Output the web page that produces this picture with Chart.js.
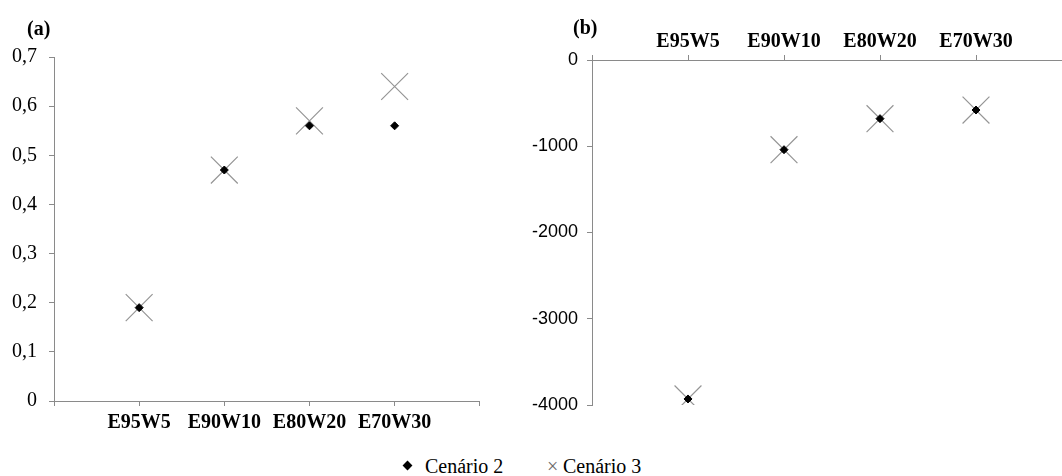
<!DOCTYPE html>
<html>
<head>
<meta charset="utf-8">
<script src="https://cdn.jsdelivr.net/npm/chart.js@4.4.1/dist/chart.umd.min.js"></script>
<style>
  html, body { margin: 0; padding: 0; background: #fff; width: 1062px; height: 476px; overflow: hidden; }
  body { position: relative; font-family: "Liberation Serif", "Times New Roman", serif; }
  .panel { position: absolute; top: 0; }
  .tag { position: absolute; font-weight: bold; font-size: 20px; line-height: 24px; color: #000; }
  .legend { position: absolute; top: 454px; left: 400px; font-size: 20px; line-height: 24px; color: #000; white-space: nowrap; }
  .legend .item { position: absolute; top: 0; }
  .diamond { position: absolute; width: 7px; height: 7px; background: #000; transform: rotate(45deg); top: 8px; }
  .cross { position: absolute; color: #6a6a6a; font-size: 20px; top: 0; }
</style>
</head>
<body>
<div class="panel" style="left:0;width:500px;height:440px;"><canvas id="chartA" width="500" height="440"></canvas></div>
<div class="panel" style="left:500px;width:600px;height:440px;"><canvas id="chartB" width="600" height="440"></canvas></div>
<div class="tag" style="left:27px;top:16px;">(a)</div>
<div class="tag" style="left:573px;top:15px;">(b)</div>
<div class="legend">
  <span class="item" style="left:0;"><span class="diamond" style="left:4px;"></span><span style="position:absolute;left:25px;">Cenário&nbsp;2</span></span>
  <span class="item" style="left:147px;"><span class="cross" style="left:0;">×</span><span style="position:absolute;left:16px;">Cenário&nbsp;3</span></span>
</div>
<script>
// Scenario categories along the horizontal axis
const categories = ['E95W5', 'E90W10', 'E80W20', 'E70W30'];

// Panel (a)
const cenario2A = [0.19, 0.47, 0.56, 0.56];
const cenario3A = [0.19, 0.47, 0.57, 0.64];

// Panel (b)
const cenario2B = [-3930, -1040, -680, -580];
const cenario3B = [-3930, -1040, -680, -580];

const SERIF = '"Liberation Serif", "Times New Roman", serif';
const SANS = '"Liberation Sans", Arial, sans-serif';
const AXIS = '#8a8a8a';

Chart.defaults.color = '#000';
Chart.defaults.font.family = SERIF;
Chart.defaults.font.size = 20;

function toPoints(values) {
  return values.map((v, i) => ({ x: i + 1, y: v }));
}

function datasets(c2, c3) {
  return [
    {
      label: 'Cenário 2',
      data: toPoints(c2),
      pointStyle: 'rectRot',
      pointRadius: 4,
      pointBackgroundColor: '#000',
      pointBorderColor: '#000',
      pointBorderWidth: 1,
      showLine: false
    },
    {
      label: 'Cenário 3',
      data: toPoints(c3),
      pointStyle: 'crossRot',
      pointRadius: 19,
      pointBorderColor: '#959595',
      pointBorderWidth: 1.2,
      showLine: false
    }
  ];
}

function categoryTick(v) {
  const i = Math.round(v) - 1;
  return (i >= 0 && i < categories.length) ? categories[i] : '';
}

function gridOpts() {
  return { display: true, drawOnChartArea: false, drawTicks: true, tickLength: 5, color: AXIS, lineWidth: 1 };
}

const baseOptions = {
  responsive: false,
  devicePixelRatio: 1,
  animation: false,
  events: [],
  plugins: { legend: { display: false }, tooltip: { enabled: false } }
};

new Chart(document.getElementById('chartA'), {
  type: 'scatter',
  data: { datasets: datasets(cenario2A, cenario3A) },
  options: {
    ...baseOptions,
    layout: { padding: { left: 0, top: 57, right: 17, bottom: 0 } },
    scales: {
      x: {
        type: 'linear', position: 'bottom', min: 0, max: 5,
        grid: gridOpts(),
        border: { color: AXIS, width: 1 },
        ticks: { stepSize: 1, padding: 5, maxRotation: 0, autoSkip: false,
                 font: { weight: 'bold', size: 20 }, callback: categoryTick },
        afterFit: s => { s.height = 39; }
      },
      y: {
        type: 'linear', min: 0, max: 0.7,
        grid: gridOpts(),
        border: { color: AXIS, width: 1 },
        ticks: { stepSize: 0.1, padding: 12,
                 callback: v => { const r = Math.round(v * 10) / 10; return r === 0 ? '0' : r.toFixed(1).replace('.', ','); } },
        afterFit: s => { s.width = 54; }
      }
    }
  }
});

new Chart(document.getElementById('chartB'), {
  type: 'scatter',
  data: { datasets: datasets(cenario2B, cenario3B) },
  options: {
    ...baseOptions,
    layout: { padding: { left: 0, top: 0, right: 28, bottom: 35 } },
    scales: {
      x: {
        type: 'linear', position: 'top', min: 0, max: 5,
        grid: gridOpts(),
        border: { color: AXIS, width: 1 },
        ticks: { stepSize: 1, padding: 1, maxRotation: 0, autoSkip: false,
                 font: { weight: 'bold', size: 20 }, callback: categoryTick },
        afterFit: s => { s.height = 60; }
      },
      y: {
        type: 'linear', min: -4000, max: 0,
        grid: gridOpts(),
        border: { color: AXIS, width: 1 },
        ticks: { stepSize: 1000, padding: 9, font: { family: SANS, size: 18 },
                 callback: v => String(Math.round(v)) },
        afterFit: s => { s.width = 92; }
      }
    }
  }
});
</script>
</body>
</html>
